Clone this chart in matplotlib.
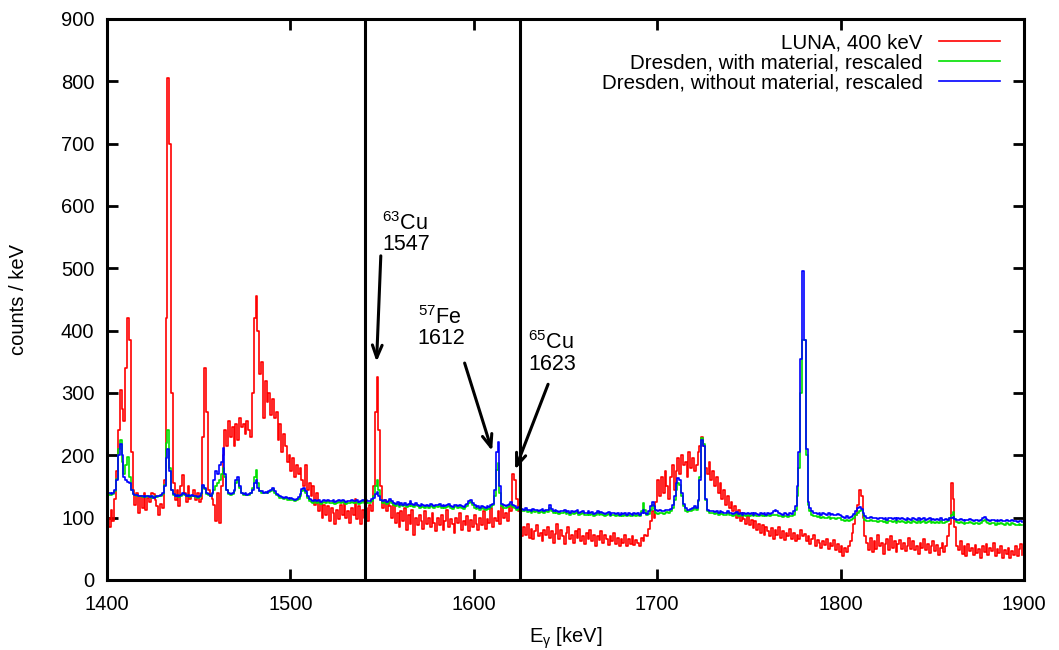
import numpy as np
import matplotlib
matplotlib.use("Agg")
import matplotlib.pyplot as plt

plt.rcParams['font.family'] = ['Liberation Sans', 'DejaVu Sans']

# Energy bins (keV), 1 keV wide, 1400..1899
energy_start = 1400
energy_stop = 1900

luna_400keV = [
    100, 85, 112, 95, 130, 175, 240, 305, 275, 255,
    340, 420, 385, 205, 145, 120, 140, 108, 135, 115,
    140, 112, 132, 125, 140, 138, 128, 118, 105, 122,
    115, 160, 420, 805, 700, 300, 155, 128, 145, 118,
    150, 168, 140, 125, 150, 130, 135, 145, 128, 140,
    125, 130, 230, 340, 270, 145, 135, 130, 120, 95,
    140, 92, 150, 200, 240, 215, 255, 230, 245, 215,
    250, 225, 260, 245, 250, 235, 255, 240, 230, 300,
    420, 455, 400, 330, 350, 260, 320, 285, 300, 265,
    290, 260, 270, 225, 250, 205, 235, 215, 190, 200,
    175, 195, 165, 185, 170, 180, 160, 150, 185, 145,
    155, 135, 150, 120, 140, 110, 125, 100, 120, 105,
    118, 95, 115, 108, 90, 112, 98, 120, 105, 125,
    100, 110, 92, 115, 105, 130, 98, 118, 90, 112,
    100, 115, 95, 120, 110, 150, 270, 325, 240, 150,
    115, 128, 110, 125, 118, 100, 120, 92, 108, 85,
    110, 95, 115, 80, 105, 90, 112, 72, 100, 88,
    105, 95, 82, 110, 90, 100, 85, 108, 92, 78,
    100, 88, 105, 80, 95, 112, 85, 98, 90, 75,
    100, 92, 108, 80, 95, 88, 102, 78, 96, 85,
    105, 90, 80, 100, 88, 110, 82, 98, 92, 115,
    85, 100, 95, 110, 90, 118, 100, 108, 95, 120,
    110, 170, 160, 130, 110, 80, 70, 85, 72, 90,
    68, 82, 65, 78, 88, 70, 75, 62, 80, 72,
    85, 68, 78, 60, 74, 90, 66, 80, 70, 58,
    75, 85, 65, 72, 60, 78, 68, 82, 62, 70,
    58, 75, 66, 80, 62, 72, 55, 70, 64, 78,
    60, 72, 66, 56, 70, 62, 75, 58, 68, 55,
    66, 60, 72, 54, 65, 58, 70, 56, 64, 60,
    55, 68, 62, 72, 70, 82, 95, 110, 100, 125,
    160, 135, 165, 140, 175, 150, 130, 165, 185, 145,
    175, 195, 170, 200, 185, 190, 165, 205, 180, 195,
    175, 185, 205, 215, 230, 215, 180, 170, 190, 160,
    175, 150, 165, 140, 155, 130, 145, 120, 135, 115,
    125, 110, 118, 100, 112, 95, 108, 98, 90, 102,
    88, 96, 84, 95, 80, 90, 76, 88, 72, 85,
    78, 70, 84, 66, 80, 72, 85, 68, 78, 64,
    76, 70, 82, 66, 75, 62, 72, 66, 80, 70,
    74, 62, 70, 58, 66, 72, 55, 64, 60, 52,
    62, 56, 66, 50, 60, 54, 64, 48, 58, 45,
    55, 38, 52, 45, 55, 62, 75, 90, 105, 120,
    145, 135, 100, 70, 60, 48, 68, 45, 62, 50,
    72, 55, 60, 42, 58, 66, 48, 70, 52, 62,
    45, 58, 64, 50, 60, 46, 55, 68, 50, 62,
    48, 55, 42, 60, 52, 65, 48, 58, 44, 55,
    62, 46, 56, 40, 52, 60, 45, 55, 70, 90,
    155, 130, 85, 55, 48, 62, 42, 55, 38, 58,
    46, 52, 40, 56, 44, 50, 35, 54, 45, 58,
    40, 52, 46, 60, 38, 50, 44, 55, 36, 48,
    42, 52, 35, 46, 40, 55, 38, 50, 58, 40,
]

dresden_with_material = [
    138, 137, 136, 138, 143, 162, 210, 225, 190, 170,
    185, 197, 165, 145, 138, 136, 135, 134, 135, 133,
    134, 133, 134, 135, 132, 133, 134, 133, 135, 134,
    138, 152, 220, 240, 180, 145, 137, 134, 136, 133,
    135, 138, 137, 134, 136, 133, 135, 134, 133, 132,
    133, 138, 150, 146, 138, 136, 134, 138, 145, 150,
    155, 160, 170, 180, 165, 145, 138, 137, 138, 142,
    155, 160, 148, 139, 137, 138, 136, 137, 140, 148,
    165, 176, 155, 142, 140, 139, 140, 139, 141, 143,
    146, 140, 136, 134, 132, 131, 130, 131, 129, 128,
    129, 128, 126, 128, 130, 135, 143, 145, 140, 132,
    127, 125, 123, 126, 124, 125, 122, 124, 125, 123,
    126, 124, 123, 125, 122, 124, 125, 123, 125, 124,
    122, 124, 123, 125, 124, 123, 125, 122, 124, 126,
    123, 125, 124, 123, 127, 135, 150, 160, 145, 128,
    123, 125, 122, 124, 127, 123, 121, 119, 122, 117,
    120, 118, 121, 117, 119, 123, 119, 117, 120, 118,
    116, 119, 117, 115, 118, 116, 119, 117, 115, 118,
    117, 119, 116, 118, 115, 117, 119, 116, 114, 117,
    118, 115, 117, 116, 114, 117, 119, 123, 125, 120,
    116, 114, 115, 113, 115, 114, 113, 115, 114, 117,
    120, 135, 176, 188, 140, 118, 116, 115, 117, 118,
    121, 117, 115, 113, 114, 112, 111, 110, 112, 109,
    110, 108, 111, 109, 110, 107, 109, 111, 108, 110,
    109, 115, 111, 108, 109, 107, 106, 108, 107, 109,
    106, 107, 105, 108, 106, 107, 109, 105, 106, 108,
    105, 104, 107, 105, 106, 103, 105, 107, 104, 106,
    105, 103, 104, 106, 102, 105, 104, 103, 105, 102,
    104, 103, 105, 102, 104, 103, 102, 105, 103, 104,
    103, 110, 123, 112, 104, 106, 112, 120, 114, 108,
    106, 108, 107, 106, 108, 109, 108, 110, 115, 128,
    145, 155, 152, 135, 118, 111, 109, 110, 111, 113,
    115, 113, 126, 165, 228, 218, 128, 110, 107, 108,
    107, 106, 108, 105, 107, 106, 104, 105, 107, 104,
    105, 103, 104, 106, 103, 104, 102, 105, 103, 104,
    103, 105, 102, 104, 103, 102, 104, 103, 105, 102,
    104, 103, 105, 104, 105, 104, 103, 102, 101, 103,
    102, 101, 103, 102, 105, 112, 135, 180, 300, 385,
    385, 200, 120, 110, 105, 103, 102, 101, 103, 100,
    101, 100, 99, 101, 98, 100, 99, 98, 100, 99,
    97, 96, 95, 97, 95, 96, 98, 100, 104, 108,
    110, 112, 104, 97, 95, 94, 96, 95, 94, 95,
    93, 94, 95, 93, 94, 92, 94, 95, 93, 94,
    92, 94, 93, 95, 93, 92, 94, 93, 92, 94,
    93, 92, 94, 92, 93, 95, 92, 93, 94, 92,
    93, 91, 93, 92, 94, 92, 91, 93, 95, 100,
    105, 109, 98, 93, 91, 93, 92, 90, 92, 91,
    93, 91, 90, 92, 91, 90, 92, 94, 96, 93,
    91, 90, 92, 91, 89, 91, 90, 92, 90, 89,
    91, 90, 89, 91, 90, 89, 88, 90, 89, 88,
]

dresden_without_material = [
    140, 139, 138, 140, 145, 160, 200, 218, 200, 165,
    160, 158, 155, 145, 138, 137, 136, 135, 134, 135,
    133, 134, 135, 133, 134, 132, 133, 135, 134, 136,
    140, 150, 195, 210, 175, 145, 138, 135, 137, 134,
    136, 140, 138, 135, 137, 134, 136, 135, 134, 133,
    134, 140, 152, 148, 140, 138, 135, 140, 160, 175,
    170, 185, 190, 212, 170, 145, 140, 138, 140, 145,
    160, 165, 150, 140, 138, 140, 137, 138, 140, 145,
    155, 160, 148, 143, 142, 140, 141, 140, 142, 145,
    148, 142, 138, 136, 134, 133, 132, 133, 131, 130,
    131, 130, 128, 130, 133, 138, 146, 147, 142, 135,
    130, 128, 126, 129, 127, 128, 125, 127, 128, 126,
    129, 127, 126, 128, 125, 127, 128, 126, 128, 127,
    125, 127, 126, 128, 127, 126, 128, 125, 127, 129,
    126, 128, 127, 126, 130, 132, 138, 141, 135, 128,
    126, 128, 125, 127, 130, 126, 124, 122, 125, 120,
    123, 121, 124, 120, 122, 126, 122, 120, 123, 121,
    119, 122, 120, 118, 121, 119, 122, 120, 118, 121,
    120, 122, 119, 121, 118, 120, 122, 119, 117, 120,
    121, 118, 120, 119, 117, 120, 122, 126, 128, 124,
    120, 117, 118, 116, 118, 117, 116, 118, 117, 120,
    122, 145, 205, 222, 150, 122, 120, 118, 120, 122,
    125, 120, 118, 116, 117, 115, 114, 113, 115, 112,
    113, 111, 114, 112, 113, 110, 112, 114, 111, 113,
    112, 120, 114, 111, 112, 110, 109, 111, 110, 112,
    109, 110, 108, 111, 109, 110, 112, 108, 109, 111,
    108, 107, 110, 108, 109, 106, 108, 110, 107, 109,
    108, 106, 107, 109, 105, 108, 107, 106, 108, 105,
    107, 106, 108, 105, 107, 106, 105, 108, 106, 107,
    105, 108, 112, 108, 106, 110, 118, 125, 118, 112,
    110, 112, 111, 110, 112, 113, 112, 114, 120, 135,
    155, 163, 160, 140, 122, 115, 112, 113, 114, 116,
    118, 116, 128, 160, 225, 215, 130, 113, 110, 111,
    110, 109, 111, 108, 110, 109, 107, 108, 110, 107,
    108, 106, 107, 109, 106, 107, 105, 108, 106, 107,
    106, 108, 105, 107, 106, 105, 107, 106, 108, 105,
    107, 106, 108, 110, 112, 110, 108, 106, 105, 107,
    106, 105, 107, 106, 110, 118, 150, 205, 355, 495,
    385, 210, 125, 115, 110, 108, 107, 106, 108, 105,
    107, 106, 105, 107, 104, 106, 105, 104, 106, 105,
    102, 101, 100, 102, 100, 101, 103, 106, 110, 115,
    117, 114, 108, 102, 100, 99, 101, 100, 99, 100,
    98, 99, 100, 98, 99, 97, 99, 100, 98, 99,
    97, 99, 98, 100, 98, 97, 99, 98, 97, 99,
    98, 97, 99, 97, 98, 100, 97, 98, 99, 97,
    98, 96, 98, 97, 99, 97, 96, 98, 97, 99,
    100, 101, 98, 97, 96, 98, 97, 95, 97, 96,
    98, 96, 95, 97, 96, 95, 97, 99, 101, 98,
    96, 95, 97, 96, 94, 96, 95, 97, 95, 94,
    96, 95, 94, 96, 95, 94, 93, 95, 94, 93,
]

series_labels = ["LUNA, 400 keV", "Dresden, with material, rescaled",
                 "Dresden, without material, rescaled"]
series_colors = ["#ff0000", "#00e000", "#0000ff"]

x_ticks = [1400, 1500, 1600, 1700, 1800, 1900]
y_ticks = [0, 100, 200, 300, 400, 500, 600, 700, 800, 900]

# region markers (keV)
region_lines = [1540.5, 1625.0]

# annotations: label, text position, arrow tail, arrow head (data coords)
annotations = [
    ("$^\\mathregular{63}$Cu\n1547", (1550.0, 556), (1549.3, 520), (1547.0, 350)),
    ("$^\\mathregular{57}$Fe\n1612", (1569.5, 405), (1595.0, 348), (1610.0, 207)),
    ("$^\\mathregular{65}$Cu\n1623", (1629.5, 364), (1640.5, 314), (1622.5, 177)),
]

energy = np.arange(energy_start, energy_stop)

fig = plt.figure(figsize=(10.59, 6.5), dpi=100)
ax = fig.add_axes([0.101, 0.1077, 0.866, 0.8631])

for data, lab, col in zip([luna_400keV, dresden_with_material, dresden_without_material],
                          series_labels, series_colors):
    ax.step(energy, data, where='post', color=col, lw=1.2, label=lab)

for xv in region_lines:
    ax.axvline(xv, color='black', lw=2.2)

for text, tpos, tail, head in annotations:
    ax.text(tpos[0], tpos[1], text, fontsize=15.5, ha='left', va='center',
            linespacing=0.95)
    ax.annotate("", xy=head, xytext=tail,
                arrowprops=dict(arrowstyle='->,head_length=0.9,head_width=0.35',
                                color='black', lw=2.2, shrinkA=0, shrinkB=0))

ax.set_xlim(1400, 1900)
ax.set_ylim(0, 900)
ax.set_xticks(x_ticks)
ax.set_yticks(y_ticks)
ax.tick_params(direction='in', length=8, width=2, labelsize=14.5,
               top=True, right=True)
ax.tick_params(axis='x', pad=11)
ax.tick_params(axis='y', pad=9)
for sp in ax.spines.values():
    sp.set_linewidth(2.2)

ax.set_xlabel("E$_\\mathregular{γ}$ [keV]", fontsize=14.5, labelpad=8)
ax.set_ylabel("counts / keV", fontsize=14.5, labelpad=24)

leg = ax.legend(loc='upper right', frameon=False, markerfirst=False,
                fontsize=14.8, handlelength=3.0, handletextpad=0.8,
                labelspacing=0.05, borderaxespad=0.3,
                bbox_to_anchor=(0.99, 1.0))

fig.savefig("out.png", dpi=100)
